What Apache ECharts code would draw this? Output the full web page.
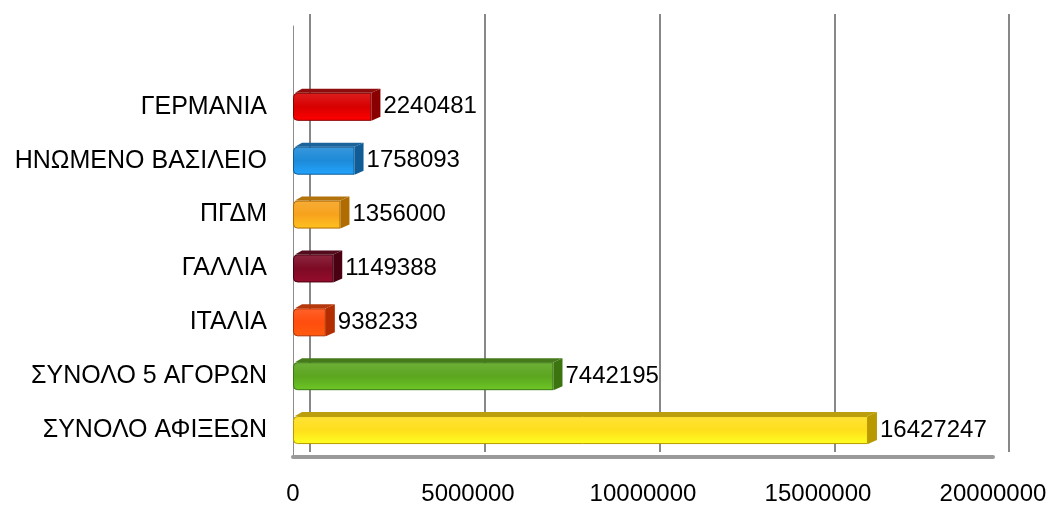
<!DOCTYPE html>
<html>
<head>
<meta charset="utf-8">
<script src="https://cdn.jsdelivr.net/npm/echarts@6/dist/echarts.min.js"></script>
<style>
  html, body { margin: 0; padding: 0; background: #fff; }
  #chart { width: 1050px; height: 506px; }
</style>
</head>
<body>
<div id="chart"></div>
<script>
// categories bottom -> top, the last slot is empty space at the top of the plot
var categories = ['ΣΥΝΟΛΟ ΑΦΙΞΕΩΝ', 'ΣΥΝΟΛΟ 5 ΑΓΟΡΩΝ', 'ΙΤΑΛΙΑ', 'ΓΑΛΛΙΑ', 'ΠΓΔΜ', 'ΗΝΩΜΕΝΟ ΒΑΣΙΛΕΙΟ', 'ΓΕΡΜΑΝΙΑ', ''];
var values = [16427247, 7442195, 938233, 1149388, 1356000, 1758093, 2240481, null];
var barColors = ['#ffdf1c', '#5ba51f', '#ff4d0d', '#7d0a25', '#f7a21c', '#1d8ad8', '#d80000', '#fff'];
var sideColors = ['#b89a00', '#3c7410', '#b22e00', '#4a0012', '#b06c00', '#0f5c96', '#8a0000', '#fff'];
var xTicks = [0, 5000000, 10000000, 15000000, 20000000];

var FONT = 'Liberation Sans, Arial, sans-serif';
var myChart = echarts.init(document.getElementById('chart'));

var barData = values.map(function (v, i) {
    return {
        value: v,
        itemStyle: {
            color: new echarts.graphic.LinearGradient(0, 0, 0, 1, [
                { offset: 0, color: echarts.color.lift(barColors[i], 0.12) },
                { offset: 0.5, color: barColors[i] },
                { offset: 1, color: echarts.color.lift(barColors[i], -0.2) }
            ]),
            borderColor: sideColors[i],
            borderWidth: 1,
            borderRadius: [4, 0, 0, 4]
        }
    };
});

// right side + top face of each bar, for the 3d look
function renderSide(params, api) {
    var v = api.value(1);
    if (v == null || isNaN(v)) return;
    var idx = api.value(0);
    var start = api.coord([0, idx]);
    var end = api.coord([v, idx]);
    var h = 28, d = 9, r = 4;
    var top = end[1] - h / 2, bot = end[1] + h / 2;
    var c = sideColors[params.dataIndex];
    return {
        type: 'group',
        children: [{
            type: 'polygon',
            shape: { points: [[start[0] + 2, top], [start[0] + d, top - r], [end[0] + d, top - r], [end[0], top]] },
            style: { fill: echarts.color.lift(c, 0.05) }
        }, {
            type: 'polygon',
            shape: { points: [[end[0], top], [end[0] + d, top - r], [end[0] + d, bot - r], [end[0], bot]] },
            style: { fill: c }
        }]
    };
}

option = {
    backgroundColor: '#fff',
    animation: false,
    grid: [
        { left: 310, right: 41, top: 14, bottom: 54 },
        { left: 293, right: 57, top: 26, bottom: 42 }
    ],
    xAxis: [{
        gridIndex: 0, type: 'value', min: 0, max: 20000000, interval: 5000000,
        axisLine: { show: false }, axisTick: { show: false }, axisLabel: { show: false },
        splitLine: { show: true, lineStyle: { color: '#888', width: 2 } }
    }, {
        gridIndex: 1, type: 'value', min: 0, max: 20000000, interval: 5000000,
        axisLine: { show: true, onZero: false, lineStyle: { color: '#9a9a9a', width: 4 } },
        axisTick: { show: false },
        splitLine: { show: false },
        axisLabel: {
            margin: 25, color: '#000', fontSize: 24, fontFamily: FONT,
            formatter: function (v) { return xTicks.indexOf(v) >= 0 ? String(v) : ''; }
        }
    }],
    yAxis: [{
        gridIndex: 0, type: 'category', data: categories,
        axisLine: { show: false }, axisTick: { show: false }, axisLabel: { show: false }
    }, {
        gridIndex: 1, type: 'category', data: categories,
        axisLine: { show: true, lineStyle: { color: '#8c8c8c', width: 1 } },
        axisTick: { show: false },
        axisLabel: { margin: 26, color: '#000', fontSize: 25, fontFamily: FONT }
    }],
    series: [{
        name: 'side',
        type: 'custom',
        xAxisIndex: 1, yAxisIndex: 1,
        renderItem: renderSide,
        data: values.map(function (v, i) { return [i, v]; }),
        encode: { x: 1, y: 0 },
        z: 3
    }, {
        name: 'arrivals',
        type: 'bar',
        xAxisIndex: 1, yAxisIndex: 1,
        barWidth: 28,
        data: barData,
        z: 4,
        label: {
            show: true, position: 'right', distance: 12,
            color: '#000', fontSize: 24, fontFamily: FONT
        }
    }]
};

myChart.setOption(option);
</script>
</body>
</html>
